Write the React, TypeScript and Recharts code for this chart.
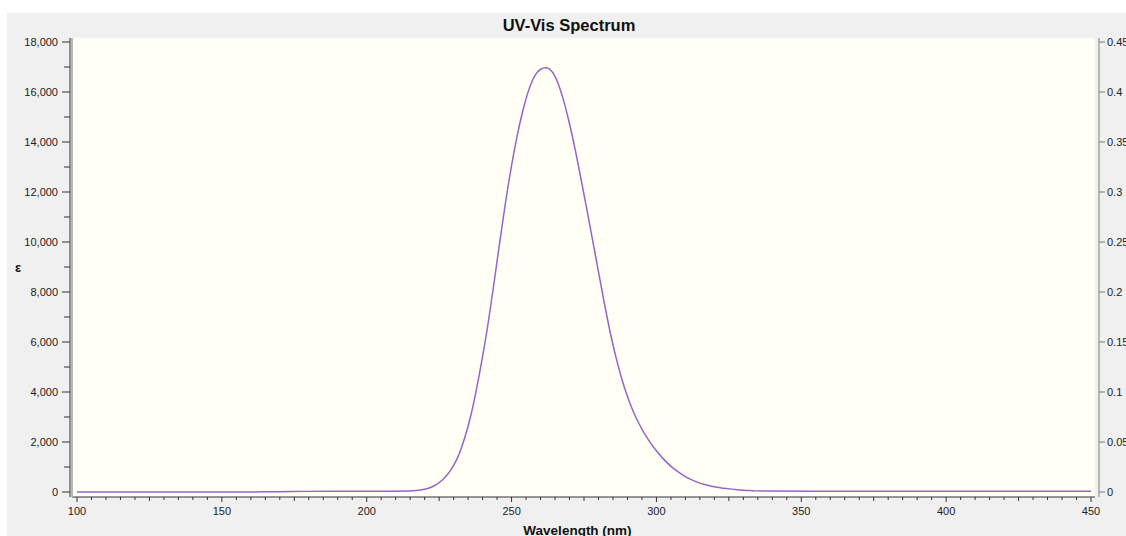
import React from 'react';
import { LineChart, Line, XAxis, YAxis, CartesianGrid, Label } from 'recharts';

// Wavelength (nm) and molar absorptivity ε
const wavelengths = [
  100, 172, 174, 200, 210, 214, 216, 218, 220, 222, 224, 226, 228, 230, 232, 234, 236, 238,
  240, 242, 244, 246, 248, 250, 252, 254, 256, 258, 260, 262, 264, 266, 268, 270, 272, 274,
  276, 278, 280, 282, 284, 286, 288, 290, 292, 294, 296, 298, 300, 302, 304, 306, 308, 310,
  312, 314, 316, 318, 320, 322, 324, 326, 328, 330, 332, 334, 338, 345, 400, 450,
];
const epsilon = [
  0, 0, 30, 30, 30, 35, 45, 65, 105, 175, 290, 460, 700, 1040, 1520, 2200, 3050, 4150,
  5400, 6780, 8400, 10080, 11680, 13100, 14320, 15330, 16150, 16700, 16940, 17000, 16870, 16400, 15680, 14750, 13700, 12500,
  11300, 10060, 8800, 7560, 6380, 5380, 4520, 3800, 3200, 2720, 2300, 1950, 1640, 1370, 1130, 930, 760, 610,
  490, 390, 320, 260, 210, 170, 140, 115, 90, 70, 55, 45, 35, 30, 30, 30,
];

const xMajorTicks = [100, 150, 200, 250, 300, 350, 400, 450];
const yLeftMajorTicks = [0, 2000, 4000, 6000, 8000, 10000, 12000, 14000, 16000, 18000];
const yRightTicks = [0, 0.05, 0.1, 0.15, 0.2, 0.25, 0.3, 0.35, 0.4, 0.45];

const xTicks: number[] = [];
for (let i = 0; i < xMajorTicks.length - 1; i++) {
  for (let k = 0; k < 10; k++) xTicks.push(xMajorTicks[i] + k * 5);
}
xTicks.push(xMajorTicks[xMajorTicks.length - 1]);

const yLeftTicks: number[] = [];
for (let i = 0; i < yLeftMajorTicks.length - 1; i++) {
  yLeftTicks.push(yLeftMajorTicks[i], yLeftMajorTicks[i] + 1000);
}
yLeftTicks.push(yLeftMajorTicks[yLeftMajorTicks.length - 1]);

const data = wavelengths.map((nm, i) => ({ nm, eps: epsilon[i] }));

const FONT = '"Liberation Sans", Arial, sans-serif';
const TICK_COLOR = '#222222';

const XTick = (props: any) => {
  const { x, y, payload } = props;
  const v = payload.value as number;
  const major = v % 50 === 0;
  const len = major ? 5 : v % 25 === 0 ? 4 : 3;
  return (
    <g>
      <line x1={x} x2={x} y1={y} y2={y + len} stroke="#333" strokeWidth={1} />
      {major && (
        <text x={x} y={y + 18} textAnchor="middle" fontFamily={FONT} fontSize={11} fill={TICK_COLOR}>
          {String(v)}
        </text>
      )}
    </g>
  );
};

const LeftTick = (props: any) => {
  const { x, y, payload } = props;
  const v = payload.value as number;
  const major = v % 2000 === 0;
  const len = major ? 8 : 6;
  return (
    <g>
      <line x1={x - len} x2={x} y1={y} y2={y} stroke="#333" strokeWidth={1} />
      {major && (
        <text x={x - len - 4} y={y + 4} textAnchor="end" fontFamily={FONT} fontSize={11} fill={TICK_COLOR}>
          {v.toLocaleString('en-US')}
        </text>
      )}
    </g>
  );
};

const RightTick = (props: any) => {
  const { x, y, payload } = props;
  const v = payload.value as number;
  return (
    <g>
      <line x1={x} x2={x + 6} y1={y} y2={y} stroke="#777" strokeWidth={1} />
      <text x={x + 8} y={y + 4} textAnchor="start" fontFamily={FONT} fontSize={11} fill={TICK_COLOR}>
        {String(v)}
      </text>
    </g>
  );
};

export default function App() {
  return (
    <div
      style={{
        position: 'fixed',
        left: 7,
        top: 13,
        width: 1119,
        height: 523,
        background: '#f0f0f0',
        overflow: 'hidden',
      }}
    >
      <div
        style={{
          position: 'absolute',
          left: 0,
          top: 4,
          width: 1124,
          textAlign: 'center',
          fontFamily: FONT,
          fontWeight: 'bold',
          fontSize: 16.5,
          lineHeight: '16px',
          color: '#111',
        }}
      >
        UV-Vis Spectrum
      </div>
      <LineChart width={1119} height={523} data={data} margin={{ top: 25, right: 0, bottom: 0, left: 0 }}>
        <CartesianGrid
          xAxisId="xb"
          yAxisId="yl"
          horizontal={false}
          vertical={false}
          fill="#fffff6"
          stroke="none"
        />
        <XAxis
          xAxisId="xframe"
          orientation="bottom"
          height={3}
          type="number"
          domain={[0, 1]}
          axisLine={false}
          tick={false}
          tickLine={false}
        />
        <XAxis
          xAxisId="xb"
          dataKey="nm"
          type="number"
          domain={[100, 450]}
          ticks={xTicks}
          interval={0}
          height={36}
          padding={{ left: 5, right: 4 }}
          tickSize={0}
          tickMargin={0}
          tickLine={false}
          axisLine={{ stroke: '#333', strokeWidth: 1 }}
          tick={<XTick />}
        >
          <Label
            value="Wavelength (nm)"
            position="insideBottom"
            offset={4}
            dx={-6}
            dy={6}
            style={{ fontFamily: FONT, fontWeight: 'bold', fontSize: 13.5, fill: '#111' }}
          />
        </XAxis>
        <XAxis
          xAxisId="xtop"
          orientation="top"
          height={0}
          type="number"
          domain={[0, 1]}
          axisLine={{ stroke: '#b8b8b8', strokeWidth: 2 }}
          tick={false}
          tickLine={false}
        />
        <YAxis
          yAxisId="yframe"
          orientation="left"
          width={2}
          type="number"
          domain={[0, 1]}
          axisLine={{ stroke: '#b8b8b8', strokeWidth: 2 }}
          tick={false}
          tickLine={false}
        />
        <YAxis
          yAxisId="yl"
          orientation="left"
          width={63}
          type="number"
          domain={[0, 18000]}
          ticks={yLeftTicks}
          interval={0}
          padding={{ top: 4, bottom: 5 }}
          tickSize={0}
          tickMargin={0}
          tickLine={false}
          axisLine={{ stroke: '#333', strokeWidth: 1 }}
          tick={<LeftTick />}
        >
          <Label
            value="ε"
            position="insideLeft"
            offset={8}
            style={{ fontFamily: FONT, fontWeight: 'bold', fontSize: 13, fill: '#111' }}
          />
        </YAxis>
        <YAxis
          yAxisId="rframe"
          orientation="right"
          width={4}
          type="number"
          domain={[0, 1]}
          axisLine={false}
          tick={false}
          tickLine={false}
        />
        <YAxis
          yAxisId="yr"
          orientation="right"
          width={27}
          type="number"
          domain={[0, 0.45]}
          allowDataOverflow
          ticks={yRightTicks}
          interval={0}
          padding={{ top: 4, bottom: 5 }}
          tickSize={0}
          tickMargin={0}
          tickLine={false}
          axisLine={{ stroke: '#808080', strokeWidth: 1 }}
          tick={<RightTick />}
        />
        <Line
          xAxisId="xb"
          yAxisId="yr"
          dataKey="absorbance"
          stroke="none"
          dot={false}
          activeDot={false}
          legendType="none"
          isAnimationActive={false}
        />
        <Line
          xAxisId="xb"
          yAxisId="yl"
          type="basis"
          dataKey="eps"
          stroke="#9565c8"
          strokeWidth={1.5}
          dot={false}
          activeDot={false}
          isAnimationActive={false}
        />
      </LineChart>
    </div>
  );
}
